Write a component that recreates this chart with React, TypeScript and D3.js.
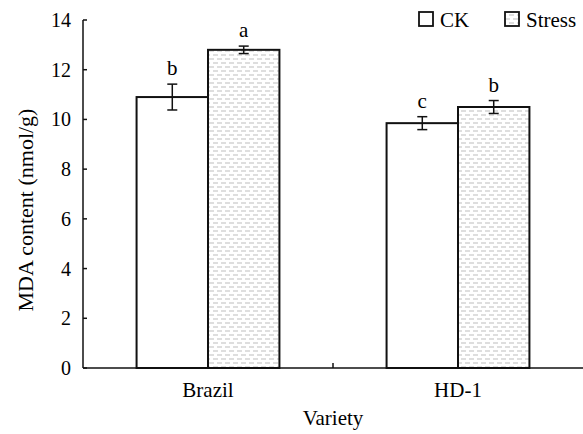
import React, { useEffect, useRef } from 'react';
import * as d3 from 'd3';

const varieties = ['Brazil', 'HD-1'];
const treatments = ['CK', 'Stress'];
const ckValues = [10.9, 9.85];
const stressValues = [12.8, 10.5];
const ckErrors = [0.52, 0.26];
const stressErrors = [0.15, 0.26];
const ckLetters = ['b', 'c'];
const stressLetters = ['a', 'b'];
const yTicks = [0, 2, 4, 6, 8, 10, 12, 14];

const W = 583, H = 434;
const margin = { top: 20, right: 0, bottom: 66, left: 83 };
const FONT = '"Liberation Serif", "Times New Roman", serif';

export default function App() {
    const ref = useRef<SVGSVGElement>(null);

    useEffect(() => {
        const svg = d3.select(ref.current);
        svg.selectAll('*').remove();

        const x0 = d3.scaleBand().domain(varieties).range([margin.left, W - margin.right]).paddingInner(0).paddingOuter(0);
        const x1 = d3.scaleBand().domain(treatments).range([0, x0.bandwidth()]).paddingInner(0).paddingOuter(0.75);
        const y = d3.scaleLinear().domain([0, 14]).range([H - margin.bottom, margin.top]);

        const defs = svg.append('defs');
        const pat = defs.append('pattern')
            .attr('id', 'dash')
            .attr('patternUnits', 'userSpaceOnUse')
            .attr('width', 16)
            .attr('height', 8);
        pat.append('rect').attr('width', 16).attr('height', 8).attr('fill', 'white');
        const dashes = [[1, 6, 3], [9, 14, 3], [5, 10, 7], [13, 18, 7], [-3, 2, 7]];
        dashes.forEach(([a, b, yy]) => {
            pat.append('line').attr('x1', a).attr('x2', b).attr('y1', yy).attr('y2', yy)
                .attr('stroke', '#bdbdbd').attr('stroke-width', 1);
        });

        const rows = varieties.map((v, i) => ([
            { v, t: 'CK', val: ckValues[i], err: ckErrors[i], letter: ckLetters[i] },
            { v, t: 'Stress', val: stressValues[i], err: stressErrors[i], letter: stressLetters[i] },
        ])).flat();

        // bars
        const g = svg.append('g');
        g.selectAll('rect.bar')
            .data(rows)
            .enter()
            .append('rect')
            .attr('class', 'bar')
            .attr('x', d => x0(d.v)! + x1(d.t)!)
            .attr('y', d => y(d.val))
            .attr('width', x1.bandwidth())
            .attr('height', d => y(0) - y(d.val))
            .attr('fill', d => d.t === 'CK' ? 'white' : 'url(#dash)')
            .attr('stroke', '#111')
            .attr('stroke-width', 2);

        // error bars
        const cx = (d: any) => x0(d.v)! + x1(d.t)! + x1.bandwidth() / 2;
        const eb = g.selectAll('g.err').data(rows).enter().append('g').attr('class', 'err')
            .attr('stroke', '#111').attr('stroke-width', 1.5);
        eb.append('line').attr('x1', cx).attr('x2', cx).attr('y1', d => y(d.val - d.err)).attr('y2', d => y(d.val + d.err));
        eb.append('line').attr('x1', d => cx(d) - 5).attr('x2', d => cx(d) + 5).attr('y1', d => y(d.val + d.err)).attr('y2', d => y(d.val + d.err));
        eb.append('line').attr('x1', d => cx(d) - 5).attr('x2', d => cx(d) + 5).attr('y1', d => y(d.val - d.err)).attr('y2', d => y(d.val - d.err));

        g.selectAll('text.letter').data(rows).enter().append('text')
            .attr('x', cx)
            .attr('y', d => y(d.val + d.err) - 9)
            .attr('text-anchor', 'middle')
            .attr('font-family', FONT)
            .attr('font-size', 21)
            .text(d => d.letter);

        // y axis
        const yAxis = svg.append('g');
        yAxis.append('line').attr('x1', margin.left).attr('x2', margin.left).attr('y1', y(14)).attr('y2', y(0)).attr('stroke', '#111').attr('stroke-width', 1.5);
        yAxis.selectAll('line.tick').data(yTicks).enter().append('line')
            .attr('x1', margin.left).attr('x2', margin.left + 4)
            .attr('y1', d => y(d)).attr('y2', d => y(d))
            .attr('stroke', '#111').attr('stroke-width', 1.5);
        yAxis.selectAll('text').data(yTicks).enter().append('text')
            .attr('x', margin.left - 12)
            .attr('y', d => y(d))
            .attr('dy', '0.35em')
            .attr('text-anchor', 'end')
            .attr('font-family', FONT)
            .attr('font-size', 20)
            .text(d => d);

        // x axis
        const xAxis = svg.append('g');
        xAxis.append('line').attr('x1', margin.left).attr('x2', W).attr('y1', y(0)).attr('y2', y(0)).attr('stroke', '#111').attr('stroke-width', 1.5);
        xAxis.selectAll('line.tick').data(varieties.slice(1)).enter().append('line')
            .attr('x1', d => x0(d)!).attr('x2', d => x0(d)!)
            .attr('y1', y(0)).attr('y2', y(0) - 5)
            .attr('stroke', '#111').attr('stroke-width', 1.5);
        xAxis.selectAll('text').data(varieties).enter().append('text')
            .attr('x', d => x0(d)! + x0.bandwidth() / 2)
            .attr('y', y(0) + 29)
            .attr('text-anchor', 'middle')
            .attr('font-family', FONT)
            .attr('font-size', 21)
            .text(d => d);

        svg.append('text')
            .attr('x', x0.range()[0] + (x0.range()[1] - x0.range()[0]) / 2)
            .attr('y', 425)
            .attr('text-anchor', 'middle')
            .attr('font-family', FONT)
            .attr('font-size', 21)
            .text('Variety');

        svg.append('text')
            .attr('transform', `translate(33,${(y(0) + y(14)) / 2 + 16}) rotate(-90)`)
            .attr('text-anchor', 'middle')
            .attr('font-family', FONT)
            .attr('font-size', 22)
            .text('MDA content (nmol/g)');

        // legend
        const legendX = [419, 505];
        const leg = svg.append('g');
        treatments.forEach((t, i) => {
            leg.append('rect')
                .attr('x', legendX[i]).attr('y', 12)
                .attr('width', 14).attr('height', 14)
                .attr('fill', t === 'CK' ? 'white' : 'url(#dash)')
                .attr('stroke', '#111').attr('stroke-width', 1.8);
            leg.append('text')
                .attr('x', legendX[i] + 21).attr('y', 27)
                .attr('font-family', FONT)
                .attr('font-size', 21)
                .text(t);
        });
    }, []);

    return (
        <svg ref={ref} width={W} height={H} style={{ position: 'absolute', left: 0, top: 0, background: 'white' }} />
    );
}
